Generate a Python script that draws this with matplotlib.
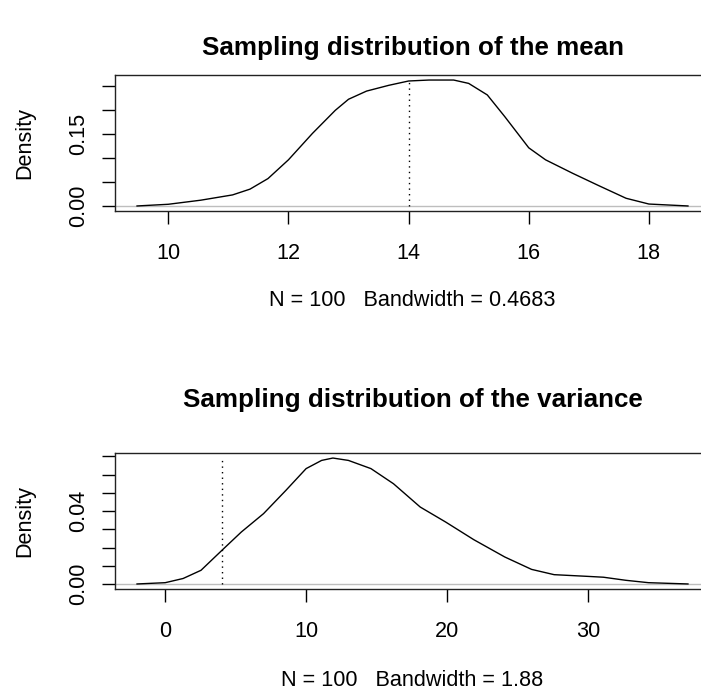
import matplotlib
matplotlib.use("Agg")
import matplotlib.pyplot as plt

# ---------------- data ----------------
mean_x = [9.48, 10.0, 10.54, 11.07, 11.36, 11.66, 12.0, 12.4, 12.78, 13.0, 13.3,
          13.67, 14.0, 14.34, 14.75, 15.0, 15.31, 15.6, 16.0, 16.28, 16.73,
          17.17, 17.62, 18.0, 18.65]
mean_y = [0.0, 0.0035, 0.012, 0.023, 0.035, 0.057, 0.096, 0.151, 0.199, 0.222,
          0.239, 0.251, 0.260, 0.262, 0.262, 0.255, 0.231, 0.186, 0.121, 0.096,
          0.068, 0.042, 0.016, 0.004, 0.0]
mean_true = 14
mean_xticks = [10, 12, 14, 16, 18]
mean_yticks = [0.00, 0.05, 0.10, 0.15, 0.20, 0.25]
mean_ylabels = ["0.00", "", "", "0.15", "", ""]
mean_title = "Sampling distribution of the mean"
mean_xlab = "N = 100   Bandwidth = 0.4683"

var_x = [-2.0, 0.0, 1.27, 2.54, 4.03, 5.4, 6.98, 8.57, 10.0, 11.1, 11.9, 13.0,
         14.6, 16.2, 18.1, 19.9, 21.9, 24.1, 26.0, 27.6, 29.9, 31.1, 32.7,
         34.3, 37.1]
var_y = [0.0, 0.0007, 0.003, 0.0075, 0.0185, 0.0285, 0.0386, 0.0514, 0.0633,
         0.0678, 0.0691, 0.0678, 0.0633, 0.055, 0.0422, 0.034, 0.0243, 0.0148,
         0.008, 0.0051, 0.0042, 0.0037, 0.002, 0.0007, 0.0]
var_true = 4
var_xticks = [0, 10, 20, 30]
var_yticks = [0.00, 0.01, 0.02, 0.03, 0.04, 0.05, 0.06, 0.07]
var_ylabels = ["0.00", "", "", "", "0.04", "", "", ""]
var_title = "Sampling distribution of the variance"
var_xlab = "N = 100   Bandwidth = 1.88"

# ---------------- figure ----------------
W, H = 701, 695
plt.rcParams['font.family'] = ['Liberation Sans', 'DejaVu Sans']
fig = plt.figure(figsize=(W / 100, H / 100), dpi=100)

FS = 15.6
FS_T = 18.7


def panel(x, y, true, xticks, yticks, ylabels, title, xlab, top, bottom,
          title_y, xlab_y):
    left, right = 115, 710
    ax = fig.add_axes([left / W, 1 - bottom / H, (right - left) / W,
                       (bottom - top) / H])
    xmin, xmax = min(x), max(x)
    pad = 0.04 * (xmax - xmin)
    ymax = max(y)
    ax.set_xlim(xmin - pad, xmax + pad)
    ax.set_ylim(-0.04 * ymax, 1.04 * ymax)
    ax.axhline(0, color="#bebebe", lw=1.0, zorder=1)
    ax.plot(x, y, color="black", lw=1.0, zorder=3)
    ax.vlines(true, 0, ymax, colors="black", linestyles=(0, (1, 3)), lw=1.0,
              zorder=2)
    ax.set_xticks(xticks)
    ax.set_xticklabels([str(t) for t in xticks])
    ax.set_yticks(yticks)
    ax.set_yticklabels(ylabels, rotation=90, va="center")
    ax.tick_params(axis="x", length=9.4, width=1.0, pad=13.7, labelsize=FS)
    ax.tick_params(axis="y", length=9.4, width=1.0, pad=9.1, labelsize=FS)
    for s in ax.spines.values():
        s.set_linewidth(1.0)
        s.set_color("#222222")
    cx = (left + right) / 2 / W
    fig.text(cx, 1 - title_y / H, title, ha="center", va="center",
             fontsize=FS_T, fontweight="bold")
    fig.text(cx, 1 - xlab_y / H, xlab, ha="center", va="center", fontsize=FS)
    fig.text(25 / W, 1 - (top + bottom) / 2 / H, "Density", rotation=90,
             ha="center", va="center", fontsize=FS)
    return ax


panel(mean_x, mean_y, mean_true, mean_xticks, mean_yticks, mean_ylabels,
      mean_title, mean_xlab, top=75, bottom=211, title_y=48, xlab_y=300)
panel(var_x, var_y, var_true, var_xticks, var_yticks, var_ylabels,
      var_title, var_xlab, top=453, bottom=589, title_y=400, xlab_y=681)

fig.savefig("out.png", dpi=100)
